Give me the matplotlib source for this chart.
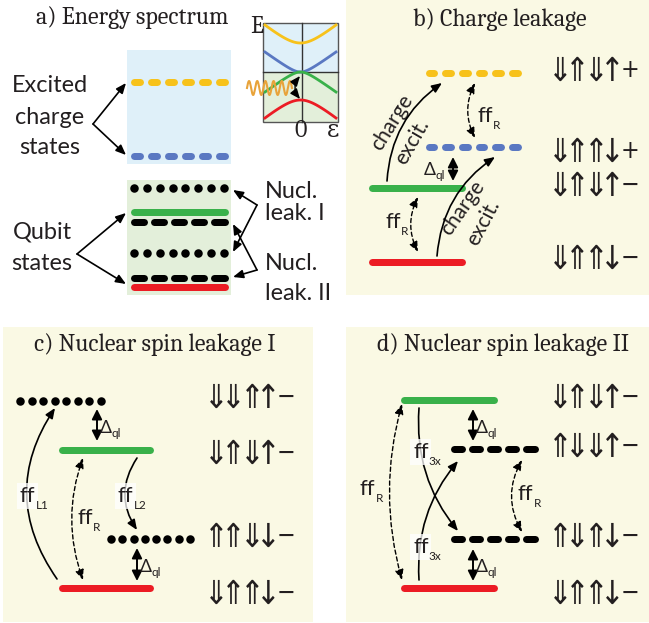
import matplotlib
matplotlib.use('Agg')
import matplotlib.pyplot as plt
import numpy as np
from matplotlib.patches import Rectangle, FancyArrowPatch
from matplotlib.textpath import TextPath
from matplotlib.font_manager import FontProperties

W, H = 649, 623
fig = plt.figure(figsize=(W / 100, H / 100), dpi=100)
ax = fig.add_axes([0, 0, 1, 1])
ax.set_xlim(0, W)
ax.set_ylim(H, 0)
ax.axis('off')
R = fig.canvas.get_renderer()

SANS = ['Lato', 'DejaVu Sans']
SERIF = ['Caladea', 'Gelasio', 'DejaVu Serif']
TXT = '#231F20'

CREAM = '#FAF9E4'
YEL, BLU, GRN, RED = '#F7C21B', '#5A78C2', '#39B14A', '#EC1C24'
LBLUE, LGRN = '#DFF0F9', '#E3EFDA'
PX = 72 / 100

# ---------------- data ----------------
titles = ['a) Energy spectrum', 'b) Charge leakage', 'c) Nuclear spin leakage I', 'd) Nuclear spin leakage II']
spins_b = ['⇓⇑⇓↑+', '⇓⇑⇑↓+', '⇓⇑⇓↑−', '⇓⇑⇑↓−']
spins_c = ['⇓⇓⇑↑−', '⇓⇑⇓↑−', '⇑⇑⇓↓−', '⇓⇑⇑↓−']
spins_d = ['⇓⇑⇓↑−', '⇑⇓⇓↑−', '⇑⇓⇑↓−', '⇓⇑⇑↓−']
levels_a = [82, 156, 188, 212, 222, 253, 278, 287]     # yellow, blue, dots, green, dashes, dots, dashes, red
levels_b = [73, 147, 188, 262]                         # yellow, blue, green, red
levels_c = [401, 450, 539, 588]                        # dots, green, dots, red
levels_d = [400, 449, 539, 588]                        # green, dashes, dashes, red
# inset band structure: (centre, edge, curvature gap)
bands = [(43, 25, 0.5, YEL), (72, 52, 0.25, BLU), (72, 92, 0.25, GRN), (100, 118, 0.5, RED)]


# ---------------- helpers ----------------
def fit(s, width, family):
    t = ax.text(0, 0, s, fontsize=10, family=family)
    w = t.get_window_extent(renderer=R).width
    t.remove()
    return 10 * width / w


def bar(x0, x1, y, color, th=7):
    ax.plot([x0 + th / 2, x1 - th / 2], [y, y], color=color, lw=th * PX,
            solid_capstyle='round', zorder=3)


def dashes(x0, x1, y, color, n, gap=4, th=7):
    L = (x1 - x0 - (n - 1) * gap) / n
    for i in range(n):
        a = x0 + i * (L + gap)
        bar(a, a + L, y, color, th)


def dots(x0, x1, y, n, d=8.5):
    xs = np.linspace(x0 + d / 2, x1 - d / 2, n)
    ax.scatter(xs, [y] * n, s=(d * PX) ** 2, color='black', lw=0, zorder=3)


def arrow(p0, p1, rad=0.0, both=False, dashed=False, lw=1.2, hw=0.25):
    st = '<|-|>' if both else '-|>'
    st += f',head_length=0.6,head_width={hw}'
    ax.add_patch(FancyArrowPatch(p0, p1, connectionstyle=f'arc3,rad={rad}',
                                 arrowstyle=st, linestyle=(0, (3, 2)) if dashed else '-',
                                 lw=lw, color='black', mutation_scale=10,
                                 shrinkA=0, shrinkB=0, zorder=4))


def subtext(x, y, main, sub, size, subsize, bg=False, drop=0.42):
    kw = {}
    if bg:
        kw['bbox'] = dict(boxstyle='square,pad=0.12', fc='white', ec='none', alpha=0.75)
    t = ax.text(x, y, main, fontsize=size, family=SANS, ha='left', va='baseline',
                zorder=5, color=TXT, **kw)
    bb = t.get_window_extent(renderer=R)
    ax.text(bb.x1, y + size * drop, sub, fontsize=subsize, family=SANS, ha='left',
            va='baseline', zorder=5, color=TXT)


SPF = FontProperties(family='DejaVu Sans', stretch='condensed')
SP_OFF = [8, 25.5, 44, 60, 77.5]


def glyph(cx, cy, ch, height=None, width=None):
    ext = TextPath((0, 0), ch, size=10, prop=SPF).get_extents()
    if height is not None:
        em = height / (ext.height / 10)
    else:
        em = width / (ext.width / 10)
    xo = (ext.x0 + ext.x1) / 2 / 10 * em
    yo = (ext.y0 + ext.y1) / 2 / 10 * em
    ax.text(cx - xo, cy + yo, ch, fontsize=em * PX, fontproperties=SPF, ha='left',
            va='baseline', color=TXT)


def spin(x, y, s):
    for off, ch in zip(SP_OFF, s):
        if ch in '+−':
            glyph(x + off, y, ch, width=14)
        else:
            glyph(x + off, y, ch, height=24)


# font sizes fitted to the reference widths
S_T = fit(titles[1], 175, SERIF)
S_S = fit('Excited', 76, SANS)
S_CH = fit('charge', 62, SANS)
S_FF = S_S * 0.95
S_SUB = S_S * 0.5
S_D = S_S * 0.75

# ---------------- backgrounds ----------------
ax.add_patch(Rectangle((346, 0), 303, 295, fc=CREAM, ec='none'))
ax.add_patch(Rectangle((3, 327), 310, 295, fc=CREAM, ec='none'))
ax.add_patch(Rectangle((346, 327), 303, 295, fc=CREAM, ec='none'))

# ---------------- panel a ----------------
ax.text(132, 18, titles[0], fontsize=S_T, family=SERIF, ha='center', va='center', color=TXT)
ax.add_patch(Rectangle((127, 50), 104, 114, fc=LBLUE, ec='none'))
ax.add_patch(Rectangle((127, 180), 104, 115, fc=LGRN, ec='none'))
dashes(130, 228, levels_a[0], YEL, 6)
dashes(130, 228, levels_a[1], BLU, 6)
dots(130, 228, levels_a[2], 8)
bar(130, 228, levels_a[3], GRN)
dashes(130, 228, levels_a[4], 'black', 5, gap=3)
dots(130, 228, levels_a[5], 8)
dashes(130, 228, levels_a[6], 'black', 5, gap=3)
bar(130, 228, levels_a[7], RED)

for yy, s in zip([85, 117, 147], ['Excited', 'charge', 'states']):
    ax.text(50, yy, s, fontsize=S_S, family=SANS, ha='center', va='center', color=TXT)
for yy, s in zip([232, 263], ['Qubit', 'states']):
    ax.text(42, yy, s, fontsize=S_S, family=SANS, ha='center', va='center', color=TXT)
for yy, s in zip([192, 213, 263, 293], ['Nucl.', 'leak. I', 'Nucl.', 'leak. II']):
    ax.text(265, yy, s, fontsize=S_S, family=SANS, ha='left', va='center', color=TXT)

arrow((93, 124), (126, 83))
arrow((93, 124), (126, 155))
arrow((77, 254), (126, 213))
arrow((77, 254), (126, 284))
arrow((257, 205), (233, 190))
arrow((257, 205), (233, 252))
arrow((257, 270), (233, 224))
arrow((257, 270), (233, 277))

# inset
ax.add_patch(Rectangle((263, 23), 75, 49, fc=LBLUE, ec='none', zorder=1))
ax.add_patch(Rectangle((263, 72), 75, 50, fc=LGRN, ec='none', zorder=1))
ax.add_patch(Rectangle((263, 23), 75, 99, fc='none', ec='#555555', lw=1.0, zorder=2))
ax.plot([302, 302], [23, 122], color='#333333', lw=1.0, zorder=2)
ax.plot([263, 338], [72, 72], color='#333333', lw=1.0, zorder=2)
u = np.linspace(-1, 1, 121)
for c, e, g, col in bands:
    f = (np.sqrt(u ** 2 + g ** 2) - g) / (np.sqrt(1 + g ** 2) - g)
    ax.plot(265 + (u + 1) * 35.5, c + (e - c) * f, color=col, lw=2.0, zorder=3)
ax.text(257, 27, 'E', fontsize=S_T, family=SERIF, ha='center', va='center', color=TXT)
ax.text(301, 131, '0', fontsize=S_T, family=SERIF, ha='center', va='center', color=TXT)
ax.text(333, 131, 'ε', fontsize=S_T, family=SERIF, ha='center', va='center', color=TXT)
xw = np.linspace(247, 292, 200)
ax.plot(xw, 88 - 7 * np.sin((xw - 247) / 45 * 2 * np.pi * 5.5), color='#E8A33A', lw=1.5, zorder=3)
arrow((300, 76), (300, 99), rad=0.4, both=True, lw=1.0)

# ---------------- panel b ----------------
ax.text(500, 20, titles[1], fontsize=S_T, family=SERIF, ha='center', va='center', color=TXT)
dashes(425, 521, levels_b[0], YEL, 6)
dashes(425, 521, levels_b[1], BLU, 6)
bar(368, 465, levels_b[2], GRN)
bar(368, 465, levels_b[3], RED)
for yy, s in zip([69, 150.5, 184, 257], spins_b):
    spin(552, yy, s)
arrow((387, 181), (442, 83), rad=-0.24)
arrow((437, 256), (495, 157), rad=-0.24)
arrow((475, 83), (475, 138), rad=0.25, both=True, dashed=True, lw=1.0)
arrow((418, 197), (418, 252), rad=0.25, both=True, dashed=True, lw=1.0)
arrow((453, 157), (453, 181), both=True, lw=1.4, hw=0.3)
subtext(477, 122, 'ff', 'R', S_FF, S_SUB)
subtext(385, 228, 'ff', 'R', S_FF, S_SUB)
subtext(424, 175, 'Δ', 'ql', S_D, S_SUB, drop=0.3)
for (xx, yy, s, rot) in [(392, 123, 'charge', 58), (412, 142, 'excit.', 60),
                         (463, 208, 'charge', 55), (483, 223, 'excit.', 62)]:
    ax.text(xx, yy, s, fontsize=S_CH, family=SANS, rotation=rot, ha='center', va='center',
            rotation_mode='anchor', color=TXT)

# ---------------- panel c ----------------
ax.text(155, 345, titles[2], fontsize=S_T, family=SERIF, ha='center', va='center', color=TXT)
dots(16, 105, levels_c[0], 8)
bar(58, 153, levels_c[1], GRN)
dots(107, 194, levels_c[2], 8)
bar(58, 153, levels_c[3], RED)
for yy, s in zip([396, 452.5, 535, 592], spins_c):
    spin(208, yy, s)
arrow((57, 579), (55, 408), rad=-0.34)
arrow((137, 458), (137, 530), rad=0.33)
arrow((83, 458), (83, 580), rad=0.18, both=True, dashed=True, lw=1.0)
arrow((97, 409), (97, 441), both=True, lw=1.4, hw=0.3)
arrow((137, 548), (137, 581), both=True, lw=1.4, hw=0.3)
subtext(20, 502, 'ff', 'L1', S_FF, S_SUB, bg=True)
subtext(118, 502, 'ff', 'L2', S_FF, S_SUB, bg=True)
subtext(77, 524, 'ff', 'R', S_FF, S_SUB)
subtext(100, 433, 'Δ', 'ql', S_D, S_SUB, drop=0.3)
subtext(140, 572, 'Δ', 'ql', S_D, S_SUB, drop=0.3)

# ---------------- panel d ----------------
ax.text(503, 345, titles[3], fontsize=S_T, family=SERIF, ha='center', va='center', color=TXT)
bar(400, 497, levels_d[0], GRN)
dashes(450, 538, levels_d[1], 'black', 5, gap=3)
dashes(450, 538, levels_d[2], 'black', 5, gap=3)
bar(400, 497, levels_d[3], RED)
for yy, s in zip([396, 445, 535, 592], spins_d):
    spin(552, yy, s)
arrow((402, 404), (402, 580), rad=0.14, both=True, dashed=True, lw=1.0)
arrow((522, 460), (522, 532), rad=0.28, both=True, dashed=True, lw=1.0)
arrow((419, 408), (458, 531), rad=0.2)
arrow((419, 580), (458, 461), rad=-0.2)
arrow((473, 409), (473, 441), both=True, lw=1.4, hw=0.3)
arrow((473, 549), (473, 581), both=True, lw=1.4, hw=0.3)
subtext(413, 458, 'ff', '3x', S_FF, S_SUB, bg=True)
subtext(413, 553, 'ff', '3x', S_FF, S_SUB, bg=True)
subtext(360, 495, 'ff', 'R', S_FF, S_SUB)
subtext(518, 500, 'ff', 'R', S_FF, S_SUB)
subtext(476, 433, 'Δ', 'ql', S_D, S_SUB, drop=0.3)
subtext(476, 572, 'Δ', 'ql', S_D, S_SUB, drop=0.3)

fig.savefig('out.png', dpi=100)
